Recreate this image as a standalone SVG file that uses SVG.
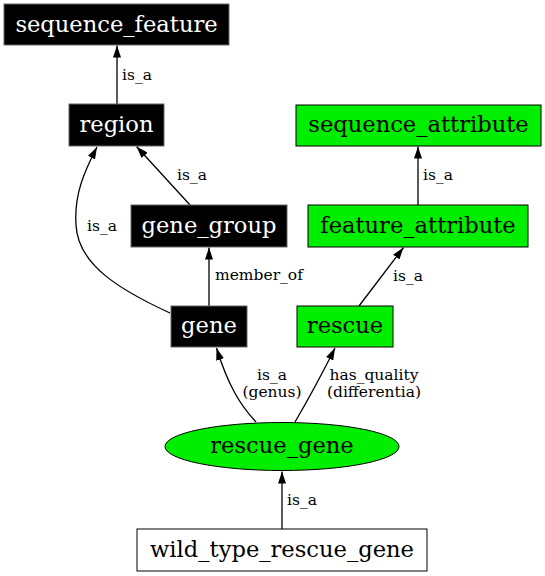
<svg xmlns="http://www.w3.org/2000/svg" width="545" height="576" viewBox="0 0 545 576">
<defs>
<marker id="ah" viewBox="0 0 12 8" refX="12" refY="4" markerWidth="12" markerHeight="8" markerUnits="userSpaceOnUse" orient="auto">
<path d="M0,0 L12,4 L0,8 Z" fill="#000"/>
</marker>
</defs>
<style>
.nt{font-family:"DejaVu Serif","Liberation Serif",serif;font-size:22.6px;text-anchor:middle}
.w{fill:#fff}
.k{fill:#000}
.el{font-family:"DejaVu Serif","Liberation Serif",serif;font-size:15.5px;fill:#000}
.blk{fill:#000;stroke:#666;stroke-width:1}
.grn{fill:#00ee00;stroke:#000;stroke-width:1}
.wht{fill:#fff;stroke:#000;stroke-width:1}
.e{fill:none;stroke:#000;stroke-width:1.3;marker-end:url(#ah)}
</style>
<rect width="545" height="576" fill="#fff"/>
<g id="edges">
<path class="e" d="M117,104 L117,45.5"/>
<text class="el" x="122" y="80">is_a</text>
<path class="e" d="M190,205 L136.5,146.5"/>
<text class="el" x="177" y="180">is_a</text>
<path class="e" d="M170,313 C120,290 78,265 76,225 C74,195 84,172 97,147"/>
<text class="el" x="87" y="231">is_a</text>
<path class="e" d="M209,306 L209,247.5"/>
<text class="el" x="215" y="280">member_of</text>
<path class="e" d="M418,205 L418,146.5"/>
<text class="el" x="423" y="180">is_a</text>
<path class="e" d="M359,306 L403.5,247.5"/>
<text class="el" x="393" y="281">is_a</text>
<path class="e" d="M256,422 C240,405 228,385 216.5,348"/>
<text class="el" x="272" y="380" text-anchor="middle">is_a</text>
<text class="el" x="272" y="397" text-anchor="middle">(genus)</text>
<path class="e" d="M295,422 C305,405 320,378 335,348"/>
<text class="el" x="374" y="380" text-anchor="middle">has_quality</text>
<text class="el" x="374" y="397" text-anchor="middle">(differentia)</text>
<path class="e" d="M282,529 L282,471.5"/>
<text class="el" x="287" y="505">is_a</text>
</g>
<g id="sequence_feature">
<rect class="blk" x="4" y="4" width="225" height="41"/>
<text class="nt w" x="116.5" y="32">sequence_feature</text>
</g>
<g id="region">
<rect class="blk" x="69" y="104" width="95" height="42"/>
<text class="nt w" x="116.5" y="132">region</text>
</g>
<g id="gene_group">
<rect class="blk" x="131" y="205" width="156" height="42"/>
<text class="nt w" x="209" y="233">gene_group</text>
</g>
<g id="gene">
<rect class="blk" x="171" y="306" width="76" height="41"/>
<text class="nt w" x="209" y="333">gene</text>
</g>
<g id="sequence_attribute">
<rect class="grn" x="296" y="105" width="245" height="41"/>
<text class="nt k" x="418.5" y="132">sequence_attribute</text>
</g>
<g id="feature_attribute">
<rect class="grn" x="308" y="205" width="220" height="42"/>
<text class="nt k" x="418" y="233">feature_attribute</text>
</g>
<g id="rescue">
<rect class="grn" x="297" y="306" width="96" height="41"/>
<text class="nt k" x="345" y="333">rescue</text>
</g>
<g id="rescue_gene">
<ellipse class="grn" cx="282" cy="446.5" rx="117" ry="24"/>
<text class="nt k" x="282" y="453">rescue_gene</text>
</g>
<g id="wild_type_rescue_gene">
<rect class="wht" x="137" y="529" width="290" height="42"/>
<text class="nt k" x="282" y="557">wild_type_rescue_gene</text>
</g>
</svg>
